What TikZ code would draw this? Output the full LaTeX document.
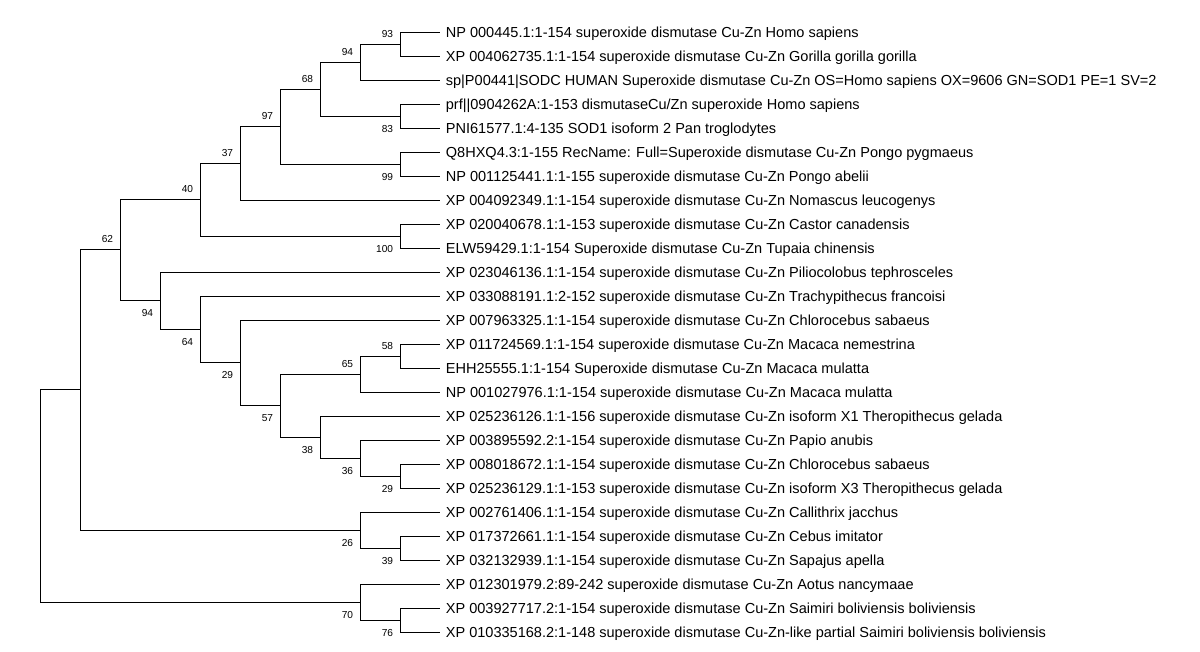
\documentclass[tikz,border=0pt]{standalone}
\usepackage{fontspec}
\setmainfont{Liberation Sans}
\usepackage{tikz}

\begin{document}
\begin{tikzpicture}[x=0.75pt,y=0.75pt,yscale=-1,xscale=1,
  branch/.style={draw=black,line width=0.75pt},
  leaf/.style={anchor=west,inner xsep=4.2pt,inner ysep=0pt,text height=7.8pt,text depth=0pt,font=\fontsize{10.9}{13}\selectfont},
  bsup/.style={anchor=south east,inner sep=0pt,xshift=-5pt,yshift=5pt,font=\fontsize{7.6}{9}\selectfont},
  bsdown/.style={anchor=north east,inner sep=0pt,xshift=-5pt,yshift=-6.4pt,font=\fontsize{7.6}{9}\selectfont}]
%set diagram left start at 0, and has height of 652
\useasboundingbox (0,0) rectangle (1200,652);

% Text Node
\node[leaf] (l1) at (440,32.5) {NP 000445.1:1-154 superoxide dismutase Cu-Zn Homo sapiens};
\node[leaf] (l2) at (440,56.5) {XP 004062735.1:1-154 superoxide dismutase Cu-Zn Gorilla gorilla gorilla};
\node[leaf] (l3) at (440,80.5) {sp|P00441|SODC HUMAN Superoxide dismutase Cu-Zn OS=Homo sapiens OX=9606 GN=SOD1 PE=1 SV=2};
\node[leaf] (l4) at (440,104.5) {prf||0904262A:1-153 dismutaseCu/Zn superoxide Homo sapiens};
\node[leaf] (l5) at (440,128.5) {PNI61577.1:4-135 SOD1 isoform 2 Pan troglodytes};
\node[leaf] (l6) at (440,152.5) {Q8HXQ4.3:1-155 RecName: Full=Superoxide dismutase Cu-Zn Pongo pygmaeus};
\node[leaf] (l7) at (440,176.5) {NP 001125441.1:1-155 superoxide dismutase Cu-Zn Pongo abelii};
\node[leaf] (l8) at (440,200.5) {XP 004092349.1:1-154 superoxide dismutase Cu-Zn Nomascus leucogenys};
\node[leaf] (l9) at (440,224.5) {XP 020040678.1:1-153 superoxide dismutase Cu-Zn Castor canadensis};
\node[leaf] (l10) at (440,248.5) {ELW59429.1:1-154 Superoxide dismutase Cu-Zn Tupaia chinensis};
\node[leaf] (l11) at (440,272.5) {XP 023046136.1:1-154 superoxide dismutase Cu-Zn Piliocolobus tephrosceles};
\node[leaf] (l12) at (440,296.5) {XP 033088191.1:2-152 superoxide dismutase Cu-Zn Trachypithecus francoisi};
\node[leaf] (l13) at (440,320.5) {XP 007963325.1:1-154 superoxide dismutase Cu-Zn Chlorocebus sabaeus};
\node[leaf] (l14) at (440,344.5) {XP 011724569.1:1-154 superoxide dismutase Cu-Zn Macaca nemestrina};
\node[leaf] (l15) at (440,368.5) {EHH25555.1:1-154 Superoxide dismutase Cu-Zn Macaca mulatta};
\node[leaf] (l16) at (440,392.5) {NP 001027976.1:1-154 superoxide dismutase Cu-Zn Macaca mulatta};
\node[leaf] (l17) at (440,416.5) {XP 025236126.1:1-156 superoxide dismutase Cu-Zn isoform X1 Theropithecus gelada};
\node[leaf] (l18) at (440,440.5) {XP 003895592.2:1-154 superoxide dismutase Cu-Zn Papio anubis};
\node[leaf] (l19) at (440,464.5) {XP 008018672.1:1-154 superoxide dismutase Cu-Zn Chlorocebus sabaeus};
\node[leaf] (l20) at (440,488.5) {XP 025236129.1:1-153 superoxide dismutase Cu-Zn isoform X3 Theropithecus gelada};
\node[leaf] (l21) at (440,512.5) {XP 002761406.1:1-154 superoxide dismutase Cu-Zn Callithrix jacchus};
\node[leaf] (l22) at (440,536.5) {XP 017372661.1:1-154 superoxide dismutase Cu-Zn Cebus imitator};
\node[leaf] (l23) at (440,560.5) {XP 032132939.1:1-154 superoxide dismutase Cu-Zn Sapajus apella};
\node[leaf] (l24) at (440,584.5) {XP 012301979.2:89-242 superoxide dismutase Cu-Zn Aotus nancymaae};
\node[leaf] (l25) at (440,608.5) {XP 003927717.2:1-154 superoxide dismutase Cu-Zn Saimiri boliviensis boliviensis};
\node[leaf] (l26) at (440,632.5) {XP 010335168.2:1-148 superoxide dismutase Cu-Zn-like partial Saimiri boliviensis boliviensis};

%Inner nodes
\coordinate (nP) at (400,44.5);
\coordinate (nN) at (360,62.5);
\coordinate (nO) at (400,116.5);
\coordinate (nL) at (320,89.5);
\coordinate (nM) at (400,164.5);
\coordinate (nK) at (280,126.5);
\coordinate (nI) at (240,163.5);
\coordinate (nJ) at (400,236.5);
\coordinate (nG) at (200,200);
\coordinate (nV) at (400,356.5);
\coordinate (nT) at (360,374.5);
\coordinate (nX) at (400,476.5);
\coordinate (nW) at (360,458.5);
\coordinate (nU) at (320,437.5);
\coordinate (nS) at (280,405.5);
\coordinate (nR) at (240,362.5);
\coordinate (nQ) at (200,329.5);
\coordinate (nH) at (160,300.5);
\coordinate (nD) at (120,250);
\coordinate (nF) at (400,548.5);
\coordinate (nE) at (360,530.5);
\coordinate (nA) at (80,389.5);
\coordinate (nC) at (400,620.5);
\coordinate (nB) at (360,602.5);
\coordinate (root) at (40,496);

%Branches
\draw[branch] (nP) |- (l1.west) (nP) |- (l2.west);
\draw[branch] (nN) |- (nP) (nN) |- (l3.west);
\draw[branch] (nO) |- (l4.west) (nO) |- (l5.west);
\draw[branch] (nL) |- (nN) (nL) |- (nO);
\draw[branch] (nM) |- (l6.west) (nM) |- (l7.west);
\draw[branch] (nK) |- (nL) (nK) |- (nM);
\draw[branch] (nI) |- (nK) (nI) |- (l8.west);
\draw[branch] (nJ) |- (l9.west) (nJ) |- (l10.west);
\draw[branch] (nG) |- (nI) (nG) |- (nJ);
\draw[branch] (nV) |- (l14.west) (nV) |- (l15.west);
\draw[branch] (nT) |- (nV) (nT) |- (l16.west);
\draw[branch] (nX) |- (l19.west) (nX) |- (l20.west);
\draw[branch] (nW) |- (l18.west) (nW) |- (nX);
\draw[branch] (nU) |- (l17.west) (nU) |- (nW);
\draw[branch] (nS) |- (nT) (nS) |- (nU);
\draw[branch] (nR) |- (l13.west) (nR) |- (nS);
\draw[branch] (nQ) |- (l12.west) (nQ) |- (nR);
\draw[branch] (nH) |- (l11.west) (nH) |- (nQ);
\draw[branch] (nD) |- (nG) (nD) |- (nH);
\draw[branch] (nF) |- (l22.west) (nF) |- (l23.west);
\draw[branch] (nE) |- (l21.west) (nE) |- (nF);
\draw[branch] (nA) |- (nD) (nA) |- (nE);
\draw[branch] (nC) |- (l25.west) (nC) |- (l26.west);
\draw[branch] (nB) |- (l24.west) (nB) |- (nC);
\draw[branch] (root) |- (nA) (root) |- (nB);

%Bootstrap values
\node[bsup] (bP) at (nP) {93};
\node[bsup] (bN) at (nN) {94};
\node[bsup] (bL) at (nL) {68};
\node[bsup] (bK) at (nK) {97};
\node[bsup] (bI) at (nI) {37};
\node[bsup] (bG) at (nG) {40};
\node[bsup] (bD) at (nD) {62};
\node[bsup] (bT) at (nT) {65};
\node[bsup] (bV) at (nV) {58};
\node[bsdown] (bO) at (nO) {83};
\node[bsdown] (bM) at (nM) {99};
\node[bsdown] (bJ) at (nJ) {100};
\node[bsdown] (bH) at (nH) {94};
\node[bsdown] (bQ) at (nQ) {64};
\node[bsdown] (bR) at (nR) {29};
\node[bsdown] (bS) at (nS) {57};
\node[bsdown] (bU) at (nU) {38};
\node[bsdown] (bW) at (nW) {36};
\node[bsdown] (bX) at (nX) {29};
\node[bsdown] (bE) at (nE) {26};
\node[bsdown] (bF) at (nF) {39};
\node[bsdown] (bB) at (nB) {70};
\node[bsdown] (bC) at (nC) {76};

\end{tikzpicture}
\end{document}
